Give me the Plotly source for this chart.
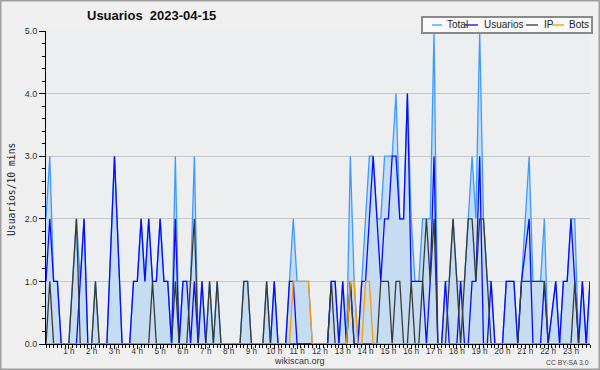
import plotly.graph_objects as go

# ---------------- data (10-minute slots, 144 per day) ----------------
slots = list(range(144))
hour_ticks = list(range(6, 144, 6))
hour_labels = [f"{h} h" for h in range(1, 24)]

total = [2, 3, 1, 1, 0, 0, 0, 1, 2, 1, 2, 0,
         0, 1, 0, 0, 0, 1.5, 3, 1.5, 0, 0, 0, 1,
         1, 2, 1, 2, 1, 1, 2, 1, 1, 0, 3, 0,
         1, 1, 1, 3, 0, 1, 0, 1, 0, 1, 0, 0,
         0, 0, 0, 0, 1, 1, 0, 0, 0, 0, 1, 0,
         1, 0, 0, 0, 1, 2, 1, 1, 1, 1, 0, 0,
         0, 0, 0, 1, 1, 0, 1, 0, 3, 1, 0, 1,
         2, 3, 3, 2, 2, 3, 3, 3, 4, 2, 2, 4,
         2, 1, 1, 2, 2, 2, 5, 0, 0, 1, 1, 2,
         1, 1, 1, 2, 3, 2, 5, 2, 1, 1, 0, 0,
         0, 1, 1, 1, 0, 1, 2, 3, 1, 1, 1, 2,
         0, 0.5, 1, 0, 1, 1, 2, 2, 0, 1, 0, 1]

usuarios = [1, 2, 1, 1, 0, 0, 0, 0, 0, 1, 2, 0,
            0, 0, 0, 0, 0, 1.5, 3, 1.5, 0, 0, 0, 1,
            1, 2, 1, 2, 1, 1, 2, 1, 1, 0, 2, 0,
            1, 1, 0, 1, 0, 1, 0, 0, 0, 0, 0, 0,
            0, 0, 0, 0, 0, 0, 0, 0, 0, 0, 0, 0,
            1, 0, 0, 0, 1, 1, 0, 0, 0, 0, 0, 0,
            0, 0, 0, 1, 1, 0, 1, 0, 1, 0, 0, 1,
            1, 2, 3, 2, 1, 2, 2, 3, 3, 2, 2, 4,
            1, 1, 1, 1, 0, 1, 3, 0, 0, 1, 0, 0,
            0, 1, 0, 0, 1, 1, 3, 0, 0, 1, 0, 0,
            0, 1, 1, 1, 0, 1, 1.5, 2, 0, 0, 0, 1,
            0, 0.5, 1, 0, 1, 1, 2, 1, 0, 1, 0, 1]

ip = [0, 1, 0, 0, 0, 0, 0, 1, 2, 0, 0, 0,
      0, 1, 0, 0, 0, 0, 0, 0, 0, 0, 0, 0,
      0, 0, 0, 0, 1, 0, 0, 0, 0, 0, 1, 0,
      0, 0, 1, 2, 0, 0, 0, 1, 0, 1, 0, 0,
      0, 0, 0, 0, 1, 1, 0, 0, 0, 0, 1, 0,
      0, 0, 0, 0, 0, 0, 0, 0, 0, 0, 0, 0,
      0, 0, 0, 1, 0, 0, 0, 0, 1, 0, 0, 0,
      0, 0, 0, 0, 1, 1, 1, 0, 1, 1, 0, 0,
      1, 0, 0, 1, 2, 1, 2, 0, 0, 0, 1, 2,
      1, 0, 1, 2, 2, 1, 2, 2, 1, 0, 0, 0,
      0, 0, 0, 0, 0, 1, 1, 1, 1, 1, 1, 1,
      0, 0, 0, 0, 0, 0, 0, 1, 0, 0, 0, 0]

bots = [0] * 64 + [0, 1, 1, 1, 1, 1, 0, 0, 0, 0, 0, 0,
                   0, 0, 0, 0, 1, 1, 0, 0, 1, 1, 0, 0] + [0] * 56

# ---------------- layout helpers ----------------
W, H = 600, 370
L, R, T, B = 46, 10, 31, 26


def px(x):
    return (x - L) / (W - L - R)


def py(y):
    return (H - B - y) / (H - T - B)


fig = go.Figure()
fig.add_trace(go.Scatter(x=slots, y=total, mode="lines", name="Total",
                         line=dict(color="#3d9bff", width=1.3),
                         fill="tozeroy", fillcolor="#c6dcf0"))
fig.add_trace(go.Scatter(x=slots, y=usuarios, mode="lines", name="Usuarios",
                         line=dict(color="#0a0aff", width=1.3)))
fig.add_trace(go.Scatter(x=slots, y=ip, mode="lines", name="IP",
                         line=dict(color="#3a3a3a", width=1.3)))
fig.add_trace(go.Scatter(x=slots, y=bots, mode="lines", name="Bots",
                         line=dict(color="#ff9a00", width=1.3)))

fig.update_layout(
    width=W, height=H,
    margin=dict(l=L, r=R, t=T, b=B),
    paper_bgcolor="#f0f0f0",
    plot_bgcolor="#eceef0",
    showlegend=False,
    hovermode=False,
    font=dict(family="Liberation Sans", color="#333"),
)

fig.update_xaxes(
    range=[0, 143], tickmode="array", tickvals=hour_ticks, ticktext=hour_labels,
    ticks="outside", ticklen=4, tickcolor="black", tickwidth=1,
    tickfont=dict(size=8.2, color="#333", family="Liberation Sans"),
    ticklabelstandoff=-5,
    showline=True, linecolor="black", linewidth=1,
    showgrid=False, zeroline=False,
    minor=dict(tick0=0, dtick=1, ticks="outside", ticklen=3, tickcolor="black", showgrid=False),
)
fig.update_yaxes(
    range=[0, 5], tickmode="array", tickvals=[0, 1, 2, 3, 4, 5],
    ticktext=["0.0", "1.0", "2.0", "3.0", "4.0", "5.0"],
    ticks="outside", ticklen=6, tickcolor="black",
    tickfont=dict(size=9, color="#333", family="Liberation Sans"),
    showline=True, linecolor="black", linewidth=1,
    showgrid=True, gridcolor="#c8c8c8", gridwidth=1, zeroline=False,
    minor=dict(dtick=0.2, ticks="outside", ticklen=3, tickcolor="black", showgrid=False),
)

shapes = []
annotations = []

# outer frame
shapes.append(dict(type="rect", xref="paper", yref="paper",
                   x0=px(0.75), x1=px(599.25), y0=py(369.25), y1=py(0.75),
                   line=dict(color="#a0a0a0", width=1.5), fillcolor="rgba(0,0,0,0)"))

# title
annotations.append(dict(text="<b>Usuarios\u00a0\u00a02023-04-15</b>", xref="paper", yref="paper",
                        x=px(151), y=py(16), xanchor="center", yanchor="middle", showarrow=False,
                        font=dict(size=13, color="#111", family="Liberation Sans")))
# y-axis title
annotations.append(dict(text="Usuarios/10 mins", xref="paper", yref="paper",
                        x=px(11), y=py(190), xanchor="center", yanchor="middle", showarrow=False,
                        textangle=-90, font=dict(size=9.7, color="#222", family="DejaVu Sans Mono")))
# footer
annotations.append(dict(text="wikiscan.org", xref="paper", yref="paper",
                        x=px(299), y=py(361.5), xanchor="center", yanchor="middle", showarrow=False,
                        font=dict(size=9, color="#333", family="Liberation Sans")))
annotations.append(dict(text="CC BY-SA 3.0", xref="paper", yref="paper",
                        x=px(567), y=py(362), xanchor="center", yanchor="middle", showarrow=False,
                        font=dict(size=6.8, color="#444", family="Liberation Sans")))

# legend box
shapes.append(dict(type="rect", xref="paper", yref="paper",
                   x0=px(422), x1=px(592), y0=py(33), y1=py(17),
                   line=dict(color="#8a8a8a", width=2), fillcolor="#fafafa"))
legend_items = [("Total", "#3d9bff", 432, 442, 445),
                ("Usuarios", "#0a0aff", 465, 478, 482),
                ("IP", "#3a3a3a", 526, 538, 542),
                ("Bots", "#ff9a00", 552, 564, 567)]
for name, color, lx0, lx1, tx in legend_items:
    shapes.append(dict(type="line", xref="paper", yref="paper",
                       x0=px(lx0), x1=px(lx1), y0=py(25), y1=py(25),
                       line=dict(color=color, width=1.3)))
    annotations.append(dict(text=name, xref="paper", yref="paper",
                            x=px(tx), y=py(25), xanchor="left", yanchor="middle", showarrow=False,
                            font=dict(size=10, color="#222", family="Liberation Sans")))

fig.update_layout(shapes=shapes, annotations=annotations)
fig.write_html("out.html", config={"displayModeBar": False},
               post_script="document.body.style.margin='0';document.body.style.overflow='hidden';")
